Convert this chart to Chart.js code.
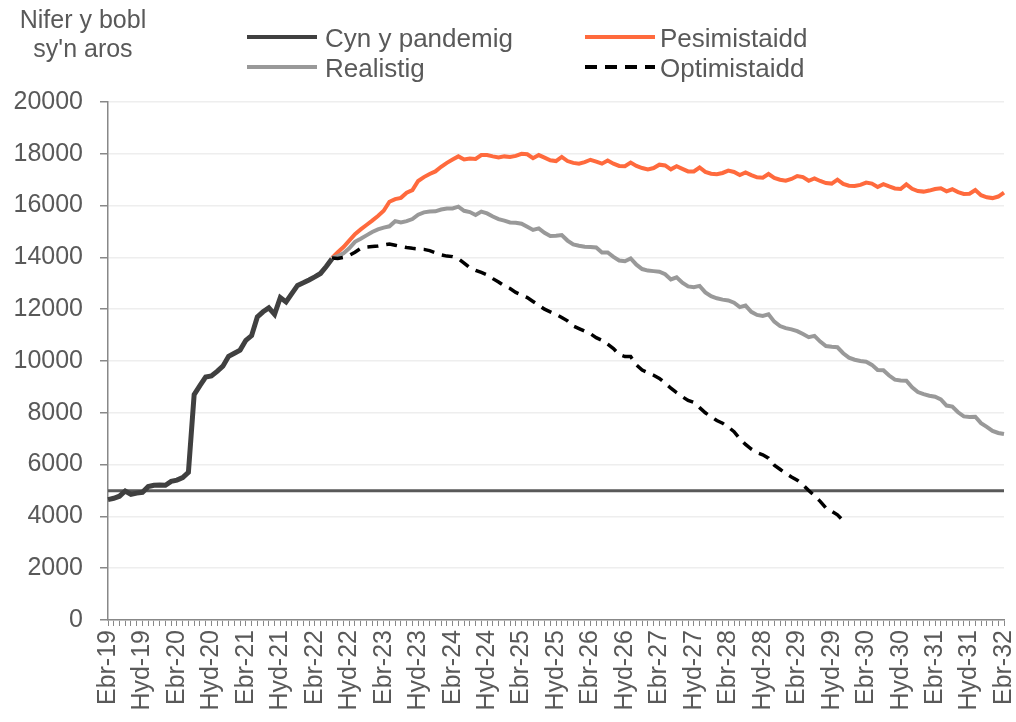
<!DOCTYPE html>
<html>
<head>
<meta charset="utf-8">
<script src="https://cdn.jsdelivr.net/npm/chart.js@4.4.1/dist/chart.umd.min.js"></script>
<style>
    body { margin: 0; background: #fff; }
    #wrap { position: relative; width: 1016px; height: 722px; font-family: "Liberation Sans", Arial, sans-serif; color: #595959; }
    #chart { position: absolute; left: 0; top: 0; }
    .axis-title { position: absolute; left: 0; width: 166px; text-align: center; font-size: 25px; line-height: 25px; }
    .swatch { position: absolute; width: 70px; height: 4px; }
    .leg-text { position: absolute; font-size: 26px; line-height: 26px; white-space: nowrap; }
</style>
</head>
<body>
<div id="wrap">
    <canvas id="chart" width="1016" height="722"></canvas>
    <div class="axis-title" style="top:7px">Nifer y bobl</div>
    <div class="axis-title" style="top:36px">sy'n aros</div>

    <div class="swatch" style="left:247px; top:35px; background:#404040"></div>
    <div class="leg-text" style="left:325px; top:25px">Cyn y pandemig</div>
    <div class="swatch" style="left:247px; top:65px; background:#999999"></div>
    <div class="leg-text" style="left:325px; top:55px">Realistig</div>
    <div class="swatch" style="left:585px; top:35px; background:#ff6a3d"></div>
    <div class="leg-text" style="left:660px; top:25px">Pesimistaidd</div>
    <div class="swatch" style="left:585px; top:65px; background:repeating-linear-gradient(90deg, #000 0 12px, transparent 12px 20px)"></div>
    <div class="leg-text" style="left:660px; top:55px">Optimistaidd</div>
</div>

<script>
// Month names (Welsh) and range: Ebr-19 .. Ebr-32, one point per month
const monthNames = ['Ion', 'Chwe', 'Maw', 'Ebr', 'Mai', 'Meh', 'Gor', 'Aws', 'Med', 'Hyd', 'Tach', 'Rhag'];
const startMonth = 3;   // Ebrill
const startYear = 19;
const monthCount = 157;
const labelEvery = 6;

// Actual waiting list, Ebr-19 .. Gor-22
const history = [
    4650, 4700, 4780, 4980, 4850, 4900, 4930, 5150, 5200, 5210,
    5200, 5350, 5400, 5500, 5700, 8700, 9050, 9380, 9420, 9600,
    9800, 10180, 10300, 10420, 10800, 10980, 11700, 11900, 12050, 11800,
    12450, 12280, 12600, 12920, 13020, 13130, 13250, 13380, 13650, 13950
];

// Projections start at Gor-22 (index 39)
const projectionStart = 39;

const pessimistic = [
    13980, 14200, 14400, 14650, 14900, 15080, 15250, 15420, 15600, 15800,
    16150, 16250, 16300, 16500, 16600, 16950, 17100, 17220, 17320, 17500,
    17650, 17780, 17900, 17780, 17820, 17800, 17950, 17950, 17900, 17860,
    17900, 17880, 17920, 18000, 17980, 17830, 17950, 17850, 17750, 17720,
    17880, 17720, 17650, 17620, 17680, 17770, 17700, 17620, 17740, 17620,
    17530, 17520, 17660, 17530, 17450, 17400, 17450, 17580, 17550, 17400,
    17520, 17420, 17320, 17320, 17470, 17300, 17230, 17210, 17260, 17350,
    17300, 17180, 17280, 17180, 17090, 17080, 17220, 17070, 17000, 16960,
    17030, 17140, 17100, 16960, 17050, 16950, 16870, 16850, 17000, 16840,
    16770, 16760, 16800, 16890, 16850, 16720, 16830, 16740, 16660, 16640,
    16820, 16650, 16560, 16540, 16580, 16640, 16670, 16550, 16630, 16520,
    16450, 16460, 16600, 16400, 16320, 16290, 16350, 16500
];

const realistic = [
    13980, 14050, 14160, 14350, 14600, 14720, 14850, 14980, 15080, 15150,
    15200, 15400, 15350, 15400, 15480, 15650, 15740, 15770, 15780, 15850,
    15890, 15890, 15960, 15800, 15750, 15640, 15770, 15700, 15580, 15480,
    15420, 15350, 15340, 15300, 15180, 15060, 15120, 14950, 14830, 14840,
    14860, 14650, 14500, 14450, 14410, 14400, 14380, 14190, 14190, 14020,
    13880, 13850, 13960, 13720, 13550, 13490, 13470, 13450, 13350, 13150,
    13230, 13020, 12880, 12850, 12900, 12650, 12500, 12420, 12370, 12340,
    12250, 12080, 12140, 11900, 11780, 11740, 11800, 11520, 11350, 11270,
    11220, 11150, 11040, 10920, 10970, 10750, 10580, 10550, 10530, 10300,
    10130, 10050, 10000, 9970, 9850, 9650, 9640, 9440, 9280, 9250,
    9240, 8980, 8800, 8720, 8660, 8620, 8520, 8280, 8240, 8020,
    7860, 7840, 7850, 7600, 7460, 7300, 7220, 7180
];

const optimistic = [
    13980, 13960, 14000, 14080, 14200, 14350, 14400, 14420, 14440, 14480,
    14520, 14470, 14420, 14380, 14350, 14330, 14310, 14260, 14180, 14100,
    14050, 14030, 13950, 13780, 13600, 13500, 13420, 13330, 13180, 13050,
    12900, 12800, 12650, 12550, 12450, 12300, 12150, 12000, 11900, 11800,
    11680, 11550, 11350, 11250, 11150, 11050, 10900, 10800, 10650, 10480,
    10250, 10170, 10170, 9850, 9650, 9550, 9450, 9330, 9150, 8950,
    8780, 8620, 8480, 8400, 8200, 8000, 7850, 7700, 7600, 7450,
    7270, 7000, 6780, 6600, 6460, 6380, 6250, 5980, 5820, 5660,
    5520, 5400, 5220, 5000, 4800, 4580, 4320, 4200, 4060, 3830
];

// Pre-pandemic level: flat line across the whole range
const prePandemic = [4990, 4990];

const yTicks = [0, 2000, 4000, 6000, 8000, 10000, 12000, 14000, 16000, 18000, 20000];

function buildLabels() {
    const labels = [];
    for (let i = 0; i < monthCount; i++) {
        const m = (startMonth + i) % 12;
        const yr = startYear + Math.floor((startMonth + i) / 12);
        labels.push(`${monthNames[m]}-${yr}`);
    }
    return labels;
}

function padFrom(start, values) {
    return new Array(start).fill(null).concat(values);
}

const labels = buildLabels();
const tickColor = '#595959';
const axisColor = '#888888';
const fontFamily = '"Liberation Sans", Arial, sans-serif';

new Chart(document.getElementById('chart'), {
    type: 'line',
    data: {
        labels,
        datasets: [
            {
                label: 'Hanes',
                data: history,
                borderColor: '#404040',
                borderWidth: 5,
                pointRadius: 0,
                order: 0
            },
            {
                label: 'Optimistaidd',
                data: padFrom(projectionStart, optimistic),
                borderColor: '#000000',
                borderWidth: 3.5,
                borderDash: [11, 8],
                pointRadius: 0,
                order: 1
            },
            {
                label: 'Realistig',
                data: padFrom(projectionStart, realistic),
                borderColor: '#999999',
                borderWidth: 4,
                pointRadius: 0,
                order: 2
            },
            {
                label: 'Pesimistaidd',
                data: padFrom(projectionStart, pessimistic),
                borderColor: '#ff6a3d',
                borderWidth: 4,
                pointRadius: 0,
                order: 3
            },
            {
                label: 'Cyn y pandemig',
                data: [
                    { x: labels[0], y: prePandemic[0] },
                    { x: labels[monthCount - 1], y: prePandemic[1] }
                ],
                borderColor: '#595959',
                borderWidth: 3,
                pointRadius: 0,
                order: 4
            }
        ]
    },
    options: {
        responsive: false,
        animation: false,
        devicePixelRatio: 1,
        layout: {
            padding: { top: 102, right: 12, bottom: 0, left: 0 }
        },
        plugins: {
            legend: { display: false },
            tooltip: { enabled: false }
        },
        scales: {
            x: {
                grid: {
                    drawOnChartArea: false,
                    drawTicks: true,
                    tickLength: 6,
                    tickColor: axisColor
                },
                border: { color: axisColor, width: 1.5 },
                ticks: {
                    autoSkip: false,
                    maxRotation: 90,
                    minRotation: 90,
                    padding: 4,
                    color: tickColor,
                    font: { family: fontFamily, size: 25 },
                    callback: (value, index) => index % labelEvery === 0 ? labels[index] : ''
                },
                afterFit: (scale) => {
                    scale.height = 102;
                    // keep the last rotated label from squeezing the plot
                    scale.paddingLeft = 0;
                    scale.paddingRight = 0;
                }
            },
            y: {
                min: 0,
                max: 20000,
                afterBuildTicks: (scale) => { scale.ticks = yTicks.map(v => ({ value: v })); },
                grid: {
                    color: '#eeeeee',
                    lineWidth: 1.5,
                    tickLength: 8,
                    tickColor: axisColor
                },
                border: { color: axisColor, width: 1.5 },
                ticks: {
                    padding: 17,
                    color: tickColor,
                    font: { family: fontFamily, size: 25 },
                    callback: (value) => String(value)
                },
                afterFit: (scale) => {
                    scale.width = 108;
                    scale.paddingTop = 0;
                    scale.paddingBottom = 0;
                }
            }
        }
    }
});
</script>
</body>
</html>
